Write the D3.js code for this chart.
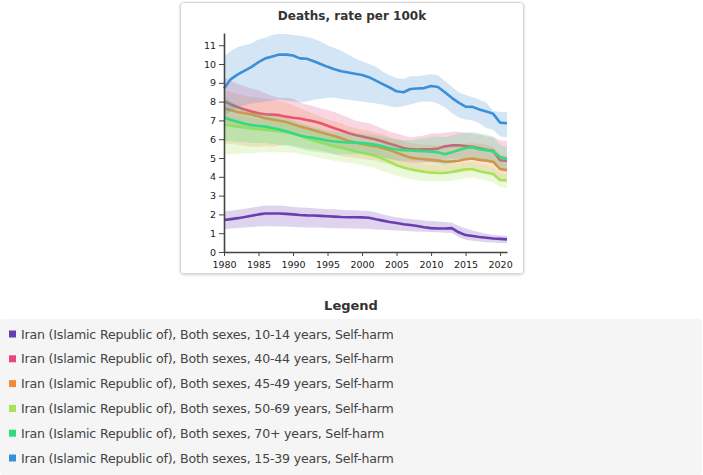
<!DOCTYPE html>
<meta charset="utf-8">
<style>
  body { margin: 0; background: #fff; }
  text { font-family: Tahoma, "DejaVu Sans", Verdana, sans-serif; }
</style>
<svg width="703" height="475"></svg>
<script src="https://d3js.org/d3.v7.min.js"></script>
<script>

var years = d3.range(1980, 2022)
var yTicks = [0, 1, 2, 3, 4, 5, 6, 7, 8, 9, 10, 11]
var xTicks = [1980, 1985, 1990, 1995, 2000, 2005, 2010, 2015, 2020]

var labels = [
  'Iran (Islamic Republic of), Both sexes, 10-14 years, Self-harm',
  'Iran (Islamic Republic of), Both sexes, 40-44 years, Self-harm',
  'Iran (Islamic Republic of), Both sexes, 45-49 years, Self-harm',
  'Iran (Islamic Republic of), Both sexes, 50-69 years, Self-harm',
  'Iran (Islamic Republic of), Both sexes, 70+ years, Self-harm',
  'Iran (Islamic Republic of), Both sexes, 15-39 years, Self-harm'
]
var colors = ['#6b3db0', '#e8467f', '#f28a3a', '#a6e356', '#2fdc82', '#3a8fd8']

// 10-14
var val1014 = [1.7, 1.75, 1.8, 1.86, 1.93, 2.0, 2.05, 2.05, 2.05, 2.03, 2.0, 1.97, 1.95, 1.94, 1.92, 1.9, 1.88, 1.86, 1.85, 1.85, 1.84, 1.82, 1.74, 1.67, 1.6, 1.54, 1.48, 1.44, 1.38, 1.32, 1.27, 1.25, 1.25, 1.27, 1.05, 0.9, 0.85, 0.8, 0.76, 0.72, 0.7, 0.67]
var hi1014 = [2.15, 2.2, 2.25, 2.3, 2.35, 2.42, 2.47, 2.48, 2.47, 2.45, 2.4, 2.37, 2.35, 2.33, 2.3, 2.28, 2.27, 2.25, 2.22, 2.22, 2.2, 2.18, 2.1, 2.0, 1.92, 1.85, 1.8, 1.75, 1.72, 1.68, 1.65, 1.62, 1.6, 1.55, 1.4, 1.25, 1.15, 1.05, 0.97, 0.92, 0.88, 0.85]
var lo1014 = [1.2, 1.25, 1.28, 1.3, 1.33, 1.35, 1.37, 1.37, 1.36, 1.35, 1.33, 1.32, 1.3, 1.3, 1.3, 1.28, 1.27, 1.26, 1.25, 1.25, 1.24, 1.22, 1.2, 1.18, 1.16, 1.15, 1.13, 1.11, 1.09, 1.08, 1.07, 1.05, 1.03, 1.02, 0.8, 0.65, 0.6, 0.56, 0.52, 0.5, 0.48, 0.47]

// 40-44
var val4044 = [8.03, 7.85, 7.7, 7.58, 7.47, 7.38, 7.33, 7.31, 7.28, 7.2, 7.14, 7.1, 7.02, 6.95, 6.85, 6.72, 6.58, 6.46, 6.33, 6.22, 6.14, 6.06, 5.98, 5.88, 5.76, 5.65, 5.53, 5.47, 5.45, 5.46, 5.46, 5.5, 5.62, 5.67, 5.68, 5.64, 5.6, 5.52, 5.44, 5.38, 4.88, 4.84]
var hi4044 = [9.3, 9.1, 8.95, 8.8, 8.7, 8.6, 8.45, 8.3, 8.2, 8.2, 8.15, 7.95, 7.85, 7.75, 7.65, 7.55, 7.45, 7.3, 7.15, 7.0, 6.9, 6.85, 6.7, 6.55, 6.4, 6.3, 6.2, 6.1, 6.15, 6.2, 6.3, 6.3, 6.35, 6.4, 6.4, 6.35, 6.3, 6.25, 6.15, 6.1, 5.95, 5.9]
var lo4044 = [6.9, 6.8, 6.7, 6.6, 6.55, 6.5, 6.45, 6.4, 6.35, 6.3, 6.25, 6.15, 6.05, 5.95, 5.85, 5.75, 5.65, 5.55, 5.45, 5.35, 5.3, 5.25, 5.15, 5.05, 4.95, 4.85, 4.8, 4.75, 4.75, 4.75, 4.8, 4.85, 4.9, 4.95, 4.95, 4.95, 4.9, 4.85, 4.8, 4.7, 4.3, 4.25]

// 45-49
var val4549 = [7.64, 7.54, 7.45, 7.38, 7.32, 7.22, 7.12, 7.05, 6.98, 6.92, 6.8, 6.67, 6.58, 6.48, 6.37, 6.27, 6.17, 6.05, 5.92, 5.82, 5.75, 5.68, 5.62, 5.52, 5.42, 5.28, 5.15, 5.02, 4.97, 4.93, 4.9, 4.86, 4.8, 4.82, 4.85, 4.93, 4.97, 4.9, 4.86, 4.8, 4.42, 4.36]
var hi4549 = [8.6, 8.5, 8.4, 8.3, 8.25, 8.2, 8.15, 8.1, 8.05, 7.95, 7.8, 7.65, 7.5, 7.35, 7.2, 7.05, 6.95, 6.85, 6.7, 6.6, 6.5, 6.45, 6.35, 6.25, 6.1, 6.0, 5.9, 5.8, 5.75, 5.7, 5.7, 5.65, 5.6, 5.65, 5.7, 5.75, 5.8, 5.75, 5.7, 5.6, 5.2, 5.1]
var lo4549 = [5.8, 5.75, 5.7, 5.65, 5.6, 5.6, 5.65, 5.6, 5.65, 5.7, 5.65, 5.6, 5.5, 5.45, 5.4, 5.3, 5.2, 5.1, 5.05, 5.0, 4.95, 4.9, 4.85, 4.75, 4.65, 4.55, 4.45, 4.35, 4.3, 4.25, 4.25, 4.2, 4.15, 4.2, 4.25, 4.3, 4.35, 4.3, 4.25, 4.15, 3.85, 3.8]

// 50-69
var val5069 = [6.8, 6.72, 6.67, 6.62, 6.57, 6.53, 6.5, 6.47, 6.43, 6.38, 6.3, 6.18, 6.05, 5.93, 5.83, 5.72, 5.62, 5.54, 5.45, 5.36, 5.28, 5.2, 5.1, 4.96, 4.8, 4.62, 4.5, 4.4, 4.33, 4.27, 4.22, 4.2, 4.2, 4.26, 4.33, 4.4, 4.4, 4.3, 4.22, 4.15, 3.83, 3.8]
var hi5069 = [7.3, 7.25, 7.2, 7.15, 7.1, 7.05, 7.0, 7.0, 6.95, 6.9, 6.8, 6.65, 6.55, 6.4, 6.3, 6.2, 6.1, 6.0, 5.9, 5.8, 5.7, 5.6, 5.5, 5.35, 5.2, 5.0, 4.9, 4.8, 4.75, 4.7, 4.65, 4.6, 4.6, 4.65, 4.7, 4.8, 4.8, 4.7, 4.65, 4.55, 4.2, 4.15]
var lo5069 = [5.2, 5.2, 5.22, 5.25, 5.25, 5.28, 5.3, 5.3, 5.3, 5.3, 5.28, 5.22, 5.15, 5.08, 5.0, 4.92, 4.85, 4.8, 4.75, 4.7, 4.62, 4.55, 4.45, 4.3, 4.18, 4.05, 3.95, 3.88, 3.82, 3.78, 3.75, 3.75, 3.75, 3.8, 3.85, 3.92, 3.95, 3.88, 3.8, 3.7, 3.45, 3.4]

// 70+
var val70 = [7.16, 7.02, 6.93, 6.82, 6.75, 6.7, 6.67, 6.6, 6.52, 6.42, 6.3, 6.2, 6.12, 6.07, 6.0, 5.93, 5.88, 5.85, 5.83, 5.82, 5.8, 5.75, 5.7, 5.62, 5.52, 5.45, 5.42, 5.4, 5.38, 5.36, 5.34, 5.3, 5.2, 5.3, 5.42, 5.53, 5.57, 5.47, 5.42, 5.35, 5.05, 4.95]
var hi70 = [8.3, 8.0, 7.8, 7.6, 7.45, 7.4, 7.35, 7.3, 7.2, 7.1, 7.0, 6.85, 6.75, 6.65, 6.55, 6.45, 6.4, 6.35, 6.35, 6.3, 6.3, 6.25, 6.2, 6.15, 6.05, 6.0, 5.95, 5.95, 6.0, 6.05, 6.1, 6.15, 6.1, 6.2, 6.3, 6.35, 6.4, 6.3, 6.25, 6.15, 5.7, 5.6]
var lo70 = [5.9, 5.9, 5.85, 5.85, 5.8, 5.8, 5.8, 5.75, 5.7, 5.65, 5.6, 5.5, 5.4, 5.35, 5.3, 5.25, 5.2, 5.2, 5.2, 5.2, 5.2, 5.15, 5.1, 5.0, 4.95, 4.9, 4.85, 4.85, 4.8, 4.8, 4.75, 4.7, 4.6, 4.7, 4.8, 4.9, 4.95, 4.85, 4.8, 4.75, 4.4, 4.3]

// 15-39
var val1539 = [8.7, 9.2, 9.45, 9.65, 9.85, 10.1, 10.3, 10.4, 10.5, 10.5, 10.45, 10.3, 10.28, 10.15, 10.0, 9.85, 9.72, 9.62, 9.55, 9.48, 9.42, 9.3, 9.12, 8.93, 8.75, 8.55, 8.5, 8.67, 8.7, 8.72, 8.83, 8.78, 8.5, 8.2, 7.95, 7.73, 7.72, 7.58, 7.48, 7.35, 6.88, 6.85]
var hi1539 = [10.4, 10.7, 10.9, 11.0, 11.1, 11.3, 11.4, 11.55, 11.6, 11.6, 11.55, 11.5, 11.45, 11.35, 11.2, 11.0, 10.85, 10.7, 10.5, 10.3, 10.15, 10.0, 9.85, 9.6, 9.4, 9.25, 9.2, 9.35, 9.35, 9.4, 9.45, 9.4, 9.1, 8.8, 8.5, 8.35, 8.25, 8.1, 7.95, 7.5, 7.45, 7.45]
var lo1539 = [7.2, 7.5, 7.7, 7.8, 7.9, 7.95, 8.0, 8.05, 8.1, 8.05, 8.0, 7.95, 8.0, 8.1, 8.15, 8.2, 8.2, 8.15, 8.1, 8.05, 8.0, 7.95, 7.9, 7.85, 7.75, 7.7, 7.75, 7.85, 7.95, 8.0, 8.0, 7.9, 7.7, 7.4, 7.15, 7.05, 7.0, 6.85, 6.6, 6.5, 6.15, 6.1]

var series = [
  { label: labels[0], color: colors[0], val: val1014, hi: hi1014, lo: lo1014 },
  { label: labels[1], color: colors[1], val: val4044, hi: hi4044, lo: lo4044 },
  { label: labels[2], color: colors[2], val: val4549, hi: hi4549, lo: lo4549 },
  { label: labels[3], color: colors[3], val: val5069, hi: hi5069, lo: lo5069 },
  { label: labels[4], color: colors[4], val: val70, hi: hi70, lo: lo70 },
  { label: labels[5], color: colors[5], val: val1539, hi: hi1539, lo: lo1539 }
]

var svg = d3.select('svg')

var defs = svg.append('defs')
var shadow = defs.append('filter').attr('id', 'shadow')
  .attr('x', '-5%').attr('y', '-5%').attr('width', '110%').attr('height', '110%')
shadow.append('feDropShadow').attr('dx', 0).attr('dy', 1).attr('stdDeviation', 1.5)
  .attr('flood-color', '#000').attr('flood-opacity', 0.18)

// chart frame
svg.append('rect')
  .attr('x', 180.5).attr('y', 2.5).attr('width', 343).attr('height', 271)
  .attr('rx', 3)
  .attr('fill', '#fff').attr('stroke', '#d6d6d6')
  .attr('filter', 'url(#shadow)')

svg.append('text')
  .attr('x', 352).attr('y', 20)
  .attr('text-anchor', 'middle')
  .attr('font-size', 12).attr('font-weight', 'bold').attr('fill', '#333')
  .text('Deaths, rate per 100k')

var x = d3.scaleLinear().domain([1980, 2021]).range([224, 507])
var y = d3.scaleLinear().domain([0, 11.65]).range([252, 33])

var area = d3.area()
  .x(function (d) { return x(d.year) })
  .y0(function (d) { return y(d.lo) })
  .y1(function (d) { return y(d.hi) })

var line = d3.line()
  .x(function (d) { return x(d.year) })
  .y(function (d) { return y(d.val) })

var plot = svg.append('g')

series.forEach(function (s) {
  var rows = years.map(function (yr, i) {
    return { year: yr, val: s.val[i], hi: s.hi[i], lo: s.lo[i] }
  })
  plot.append('path')
    .datum(rows)
    .attr('d', area)
    .attr('fill', s.color)
    .attr('fill-opacity', 0.22)
  plot.append('path')
    .datum(rows)
    .attr('d', line)
    .attr('fill', 'none')
    .attr('stroke', s.color)
    .attr('stroke-width', 2.6)
    .attr('stroke-linejoin', 'round')
})

var xAxis = svg.append('g')
  .attr('transform', 'translate(0,252)')
  .call(d3.axisBottom(x).tickValues(xTicks).tickFormat(d3.format('d')).tickSize(4).tickSizeOuter(0))
var yAxis = svg.append('g')
  .attr('transform', 'translate(224,0)')
  .call(d3.axisLeft(y).tickValues(yTicks).tickSize(5).tickSizeOuter(0))

;[xAxis, yAxis].forEach(function (a) {
  a.select('.domain').attr('stroke', '#444').attr('stroke-width', 1.6)
  a.selectAll('.tick line').attr('stroke', '#444')
  a.selectAll('.tick text')
    .attr('font-family', 'Tahoma, "DejaVu Sans", Verdana, sans-serif')
    .attr('font-size', 9.5).attr('fill', '#1a1a1a')
})
xAxis.selectAll('.tick text').attr('dy', '0.9em')

// legend
svg.append('text')
  .attr('x', 351).attr('y', 310)
  .attr('text-anchor', 'middle')
  .attr('font-size', 13).attr('font-weight', 'bold').attr('fill', '#333')
  .text('Legend')

svg.append('rect')
  .attr('x', 0).attr('y', 319).attr('width', 702).attr('height', 156)
  .attr('rx', 3).attr('fill', '#f5f5f5')

var items = svg.append('g').selectAll('g')
  .data(series)
  .enter().append('g')
    .attr('transform', function (d, i) { return 'translate(0,' + (334 + i * 24.8) + ')' })

items.append('rect')
  .attr('x', 9).attr('y', -3.5).attr('width', 7).attr('height', 7)
  .attr('fill', function (d) { return d.color })

items.append('text')
  .attr('x', 21).attr('y', 4.5)
  .attr('font-size', 12.6).attr('letter-spacing', -0.2).attr('fill', '#444')
  .text(function (d) { return d.label })
</script>
